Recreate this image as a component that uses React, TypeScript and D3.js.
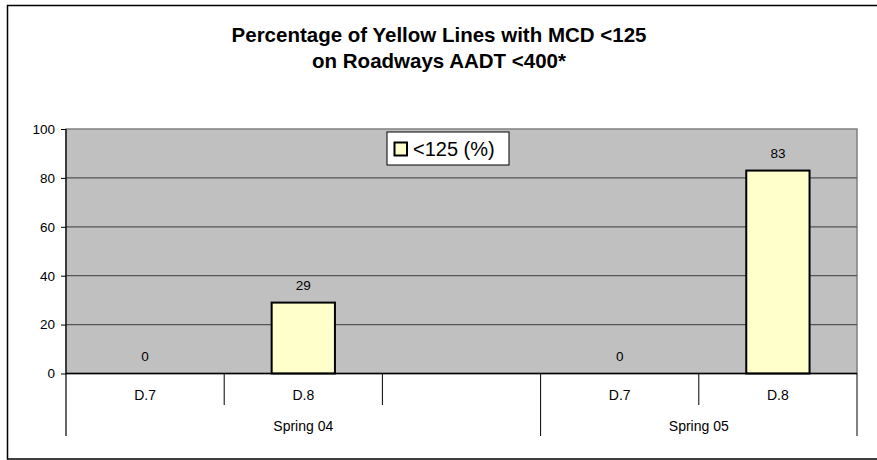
import React, { useEffect, useRef } from "react";
import * as d3 from "d3";

const categories = ["D.7", "D.8", "", "D.7", "D.8"];
const groups = ["Spring 04", "Spring 04", "Spring 04", "Spring 05", "Spring 05"];
const values: (number | null)[] = [0, 29, null, 0, 83];
const yTicks = [0, 20, 40, 60, 80, 100];
const seriesName = "<125 (%)";
const titleLines = ["Percentage of Yellow Lines with MCD <125", "on Roadways AADT <400*"];

const W = 877;
const H = 460;
const plot = { left: 66, right: 857, top: 129, bottom: 373.5 };

function App() {
  const svgRef: any = useRef(null);

  useEffect(() => {
    draw();
  }, []);

  const draw = () => {
    const svg = d3.select(svgRef.current);
    svg.selectAll("*").remove();
    const font = "'Liberation Sans', Arial, sans-serif";

    // chart border
    svg
      .append("rect")
      .attr("x", 7.5)
      .attr("y", 5.5)
      .attr("width", 880)
      .attr("height", 453.5)
      .attr("fill", "#fff")
      .attr("stroke", "#000")
      .attr("stroke-width", 1.5);

    // title
    svg
      .append("g")
      .selectAll("text")
      .data(titleLines)
      .join("text")
      .attr("x", 439)
      .attr("y", (d, i) => 42 + i * 26)
      .attr("text-anchor", "middle")
      .attr("font-family", font)
      .attr("font-weight", "bold")
      .attr("font-size", 20.5)
      .text((d) => d);

    const x = d3
      .scaleBand()
      .domain(d3.range(categories.length).map(String))
      .range([plot.left, plot.right]);

    const y = d3.scaleLinear().domain([0, 100]).range([plot.bottom, plot.top]);

    // plot area
    svg
      .append("rect")
      .attr("x", plot.left)
      .attr("y", plot.top)
      .attr("width", plot.right - plot.left)
      .attr("height", plot.bottom - plot.top)
      .attr("fill", "#c0c0c0")
      .attr("stroke", "#808080")
      .attr("stroke-width", 1.5);

    // gridlines
    svg
      .append("g")
      .selectAll("line")
      .data(yTicks.filter((t) => t > 0 && t < 100))
      .join("line")
      .attr("x1", plot.left)
      .attr("x2", plot.right)
      .attr("y1", (d) => y(d))
      .attr("y2", (d) => y(d))
      .attr("stroke", "#555")
      .attr("stroke-width", 1.2);

    // bars
    const barW = x.bandwidth() / 2.5;
    const idx = d3.range(categories.length);
    svg
      .append("g")
      .selectAll("rect")
      .data(idx.filter((i) => values[i] !== null && (values[i] as number) > 0))
      .join("rect")
      .attr("x", (i) => (x(String(i)) as number) + (x.bandwidth() - barW) / 2)
      .attr("y", (i) => y(values[i] as number))
      .attr("width", barW)
      .attr("height", (i) => y(0) - y(values[i] as number))
      .attr("fill", "#ffffcc")
      .attr("stroke", "#000")
      .attr("stroke-width", 2);

    // data labels
    svg
      .append("g")
      .selectAll("text")
      .data(idx.filter((i) => values[i] !== null))
      .join("text")
      .attr("x", (i) => (x(String(i)) as number) + x.bandwidth() / 2)
      .attr("y", (i) => y(values[i] as number) - 13)
      .attr("text-anchor", "middle")
      .attr("font-family", font)
      .attr("font-size", 13.5)
      .text((i) => String(values[i]));

    // y axis
    svg
      .append("g")
      .attr("transform", `translate(${plot.left},0)`)
      .call(d3.axisLeft(y).tickValues(yTicks).tickSize(5).tickPadding(6))
      .call((g: any) => g.select(".domain").remove())
      .call((g: any) => g.selectAll("line").attr("stroke", "#000"))
      .call((g: any) =>
        g.selectAll("text").attr("font-family", font).attr("font-size", 13.5).attr("fill", "#000")
      );

    svg
      .append("line")
      .attr("x1", plot.left)
      .attr("x2", plot.left)
      .attr("y1", plot.top)
      .attr("y2", 436)
      .attr("stroke", "#000")
      .attr("stroke-width", 1.2);

    // x axis line
    svg
      .append("line")
      .attr("x1", plot.left)
      .attr("x2", plot.right)
      .attr("y1", plot.bottom)
      .attr("y2", plot.bottom)
      .attr("stroke", "#000")
      .attr("stroke-width", 1.5);

    // category separators
    const bounds = idx.map((i) => x(String(i)) as number).concat([plot.right]);
    svg
      .append("g")
      .selectAll("line")
      .data(bounds.slice(1))
      .join("line")
      .attr("x1", (d) => d)
      .attr("x2", (d) => d)
      .attr("y1", plot.bottom)
      .attr("y2", (d, i) =>
        i === bounds.length - 2 || groups[i] !== groups[i + 1] ? 436 : 405
      )
      .attr("stroke", "#000")
      .attr("stroke-width", 1);

    // category labels
    svg
      .append("g")
      .selectAll("text")
      .data(idx)
      .join("text")
      .attr("x", (i) => (x(String(i)) as number) + x.bandwidth() / 2)
      .attr("y", 400)
      .attr("text-anchor", "middle")
      .attr("font-family", font)
      .attr("font-size", 14)
      .text((i) => categories[i]);

    // group labels
    const groupNames = Array.from(new Set(groups));
    svg
      .append("g")
      .selectAll("text")
      .data(groupNames)
      .join("text")
      .attr("x", (gname) => {
        const members = idx.filter((i) => groups[i] === gname);
        const a = x(String(members[0])) as number;
        const b = (x(String(members[members.length - 1])) as number) + x.bandwidth();
        return (a + b) / 2;
      })
      .attr("y", 431)
      .attr("text-anchor", "middle")
      .attr("font-family", font)
      .attr("font-size", 14)
      .text((d) => d);

    // legend
    const lg = svg.append("g").attr("transform", "translate(387,132)");
    lg.append("rect")
      .attr("width", 122)
      .attr("height", 33)
      .attr("fill", "#fff")
      .attr("stroke", "#000")
      .attr("stroke-width", 1);
    lg.append("rect")
      .attr("x", 7.5)
      .attr("y", 10.5)
      .attr("width", 12.5)
      .attr("height", 13)
      .attr("fill", "#ffffcc")
      .attr("stroke", "#000")
      .attr("stroke-width", 2);
    lg.append("text")
      .attr("x", 26)
      .attr("y", 24)
      .attr("font-family", font)
      .attr("font-size", 20)
      .text(seriesName);
  };

  return (
    <div style={{ position: "absolute", left: 0, top: 0 }}>
      <svg ref={svgRef} width={W} height={H} style={{ display: "block" }} />
    </div>
  );
}

export default App;
